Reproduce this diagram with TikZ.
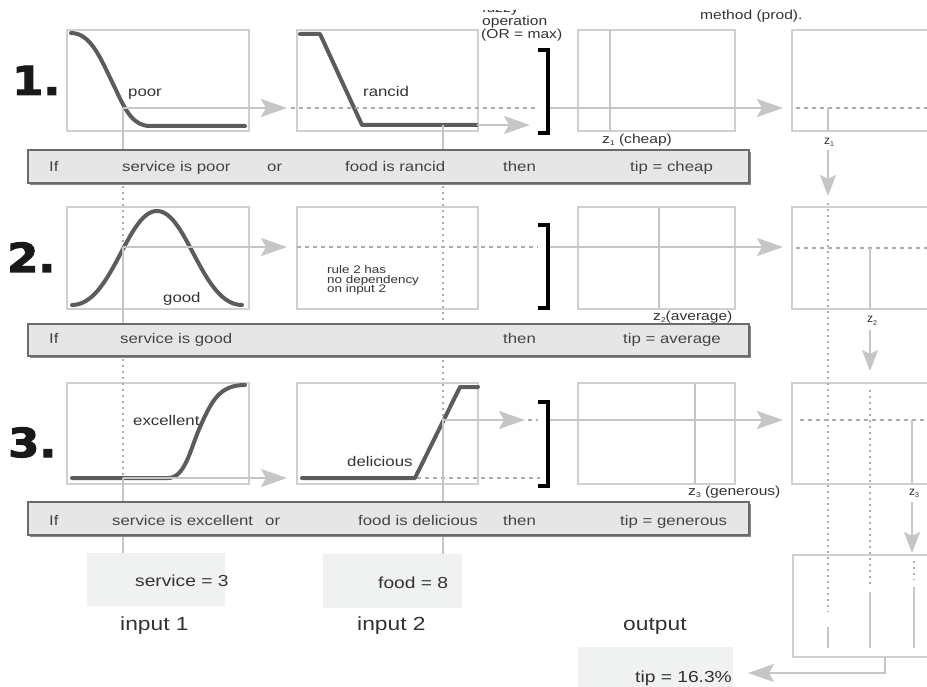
\documentclass[tikz,border=0pt]{standalone}
\usepackage{fontspec}
\setmainfont{Liberation Sans}
\newfontfamily\numfont{DejaVu Sans}[BoldFeatures={FakeBold=2.5}]
\usepackage{graphicx}
\usetikzlibrary{arrows.meta}
\definecolor{frameC}{HTML}{D0D0D0}
\definecolor{curveC}{HTML}{5C5C5C}
\definecolor{arrowC}{HTML}{C6C6C6}
\definecolor{dashC}{HTML}{ADADAD}
\definecolor{txtC}{HTML}{333333}
\definecolor{ruleTxt}{HTML}{444444}
\definecolor{ruleFill}{HTML}{E6E6E6}
\definecolor{ruleDraw}{HTML}{6A6A6A}
\definecolor{valFill}{HTML}{F0F1F1}
\newcommand\XS[1]{\scalebox{1.2}[1]{#1}}
\newcommand\XN[1]{\scalebox{1.22}[1]{#1}}
\newcommand\zsub[1]{{\fontsize{7}{7}\selectfont\raisebox{-2pt}{#1}}}
\begin{document}
\begin{tikzpicture}[x=1pt,y=-1pt,
  mfbox/.style={draw=frameC, line width=1.1pt, anchor=north west, inner sep=0pt, outer sep=0pt},
  mf/.style={draw=curveC, line width=4pt, line cap=round, line join=round},
  gline/.style={draw=arrowC, line width=2pt},
  gar/.style={draw=arrowC, line width=2pt, -{Stealth[length=26pt,width=18pt,inset=5pt]}},
  garv/.style={draw=arrowC, line width=2pt, -{Stealth[length=21pt,width=16pt,inset=4pt]}},
  dsh/.style={draw=dashC, line width=1.3pt, dash pattern=on 4pt off 4pt},
  dot/.style={draw=dashC, line width=1.7pt, dash pattern=on 1.7pt off 4.3pt},
  brk/.style={draw=black, line width=4pt, line join=miter},
  rulebox/.style={draw=ruleDraw, line width=1.1pt, fill=ruleFill, anchor=north west, inner sep=0pt, outer sep=0pt},
  shadowbox/.style={fill=ruleDraw!80, draw=none, anchor=north west, inner sep=0pt, outer sep=0pt},
  valbox/.style={fill=valFill, draw=none, anchor=north west, inner sep=0pt, outer sep=0pt},
  lbl/.style={inner sep=0pt, anchor=base west, text=txtC, font=\fontsize{14}{16}\selectfont},
  rtxt/.style={inner sep=0pt, anchor=base west, text=ruleTxt, font=\fontsize{14}{16}\selectfont},
  small/.style={inner sep=0pt, anchor=base west, text=txtC, font=\fontsize{13}{14}\selectfont},
  tiny/.style={inner sep=0pt, anchor=base west, text=txtC, font=\fontsize{11}{11}\selectfont},
  zlbl/.style={inner sep=0pt, anchor=base, text=txtC, font=\fontsize{12}{12}\selectfont},
  val/.style={inner sep=0pt, anchor=base west, text=txtC, font=\fontsize{16}{18}\selectfont},
  io/.style={inner sep=0pt, anchor=base west, text=txtC, font=\fontsize{19}{21}\selectfont},
  bignum/.style={inner sep=0pt, anchor=base west, text=black!90, font=\numfont\bfseries\fontsize{40}{40}\selectfont}
]
\useasboundingbox (0,0) rectangle (927,687);
\clip (0,0) rectangle (927,687);

% ---------- boxes ----------
\node[mfbox, minimum width=182pt, minimum height=101pt] (A1) at (67,30) {};
\node[mfbox, minimum width=181pt, minimum height=101pt] (B1) at (297,30) {};
\node[mfbox, minimum width=157pt, minimum height=101pt] (C1) at (578,30) {};
\node[mfbox, minimum width=170pt, minimum height=101pt] (D1) at (792,30) {};
\node[mfbox, minimum width=182pt, minimum height=102pt] (A2) at (67,207) {};
\node[mfbox, minimum width=181pt, minimum height=102pt] (B2) at (297,207) {};
\node[mfbox, minimum width=157pt, minimum height=102pt] (C2) at (578,207) {};
\node[mfbox, minimum width=170pt, minimum height=102pt] (D2) at (792,207) {};
\node[mfbox, minimum width=182pt, minimum height=101pt] (A3) at (67,383) {};
\node[mfbox, minimum width=181pt, minimum height=101pt] (B3) at (297,383) {};
\node[mfbox, minimum width=157pt, minimum height=101pt] (C3) at (578,383) {};
\node[mfbox, minimum width=170pt, minimum height=101pt] (D3) at (792,383) {};
\node[mfbox, minimum width=170pt, minimum height=102pt] (E) at (793,555) {};

% ---------- membership functions ----------
\draw[mf] (71,33) .. controls (92,33) and (102,62) .. (116,90) .. controls (126,112) and (134,126) .. (150,126) -- (245,126);
\draw[mf] (300,34) -- (320,34) -- (362,125) -- (477,125);
\draw[mf] (72,305) .. controls (112,305) and (127,211) .. (157,211) .. controls (187,211) and (202,305) .. (242,305);
\draw[mf] (72,478) -- (168,478) .. controls (185,478) and (190,450) .. (200,427) .. controls (212,400) and (220,385) .. (245,385);
\draw[mf] (302,478) -- (415,478) -- (460,387) -- (478,387);

% ---------- named points ----------
\coordinate (s1) at (123,108);  \coordinate (s2) at (123,247);  \coordinate (s3) at (123,478);
\coordinate (f1) at (443,125);  \coordinate (f3) at (443,420);
\coordinate (br1) at (550,108); \coordinate (br2) at (550,247); \coordinate (br3) at (550,420);

% ---------- row 1 ----------
\draw[gline] (s1) -- (123,150);
\draw[gar] (s1) -- (287,108);
\draw[dsh] (291,108) -- (538,108);
\draw[gline] (f1) -- (443,150);
\draw[gar] (477,125) -- (530,125);
\draw[brk] (538,50) -- (548,50) -- (548,133) -- (538,133);
\draw[gar] (br1) -- (783,108);
\draw[gline] (610,30) -- (610,131);
\draw[dsh] (796,108) -- (927,108);
\draw[gline] (828,108) -- (828,131);
\draw[garv] (828,150) -- (828,196);
\draw[dot] (828,203) -- (828,612);
\draw[gline] (828,627) -- (828,648);

% ---------- row 2 ----------
\draw[dot] (123,186) -- (123,245);
\draw[gline] (s2) -- (123,324);
\draw[gar] (s2) -- (287,247);
\draw[dsh] (297,247) -- (538,247);
\draw[dot] (443,186) -- (443,416);
\draw[brk] (538,225) -- (548,225) -- (548,308) -- (538,308);
\draw[gar] (br2) -- (783,247);
\draw[gline] (659,207) -- (659,309);
\draw[dsh] (796,248) -- (927,248);
\draw[gline] (870,248) -- (870,309);
\draw[garv] (870,330) -- (870,371);
\draw[dot] (870,390) -- (870,588);
\draw[gline] (870,592) -- (870,648);

% ---------- row 3 ----------
\draw[dot] (123,359) -- (123,476);
\draw[gline] (s3) -- (123,502);
\draw[gar] (s3) -- (287,478);
\draw[dsh] (417,478) -- (540,478);
\draw[gline] (443,418) -- (443,502);
\draw[gar] (f3) -- (525,420);
\draw[dsh] (528,420) -- (538,420);
\draw[brk] (538,402) -- (548,402) -- (548,486) -- (538,486);
\draw[gar] (br3) -- (783,420);
\draw[gline] (695,383) -- (695,484);
\draw[dsh] (800,420) -- (927,420);
\draw[gline] (912,420) -- (912,484);
\draw[garv] (912,502) -- (912,553);
\draw[dot] (914,561) -- (914,580);
\draw[gline] (914,587) -- (914,648);

% ---------- inputs / output ----------
\draw[gline] (123,535) -- (123,553);
\draw[gline] (443,535) -- (443,554);
\node[valbox, minimum width=138pt, minimum height=53pt] (sv) at (87,553) {};
\node[valbox, minimum width=139pt, minimum height=54pt] (fv) at (323,554) {};
\node[valbox, minimum width=155pt, minimum height=45pt] (tv) at (578,647) {};
\draw[gar] (885,657) -- (885,673) -- (748,673);

% ---------- rule boxes ----------
\node[shadowbox, minimum width=721pt, minimum height=33pt] (r1s) at (30,152) {};
\node[rulebox, minimum width=721pt, minimum height=33pt] (r1) at (28,150) {};
\node[shadowbox, minimum width=721pt, minimum height=32pt] (r2s) at (30,326) {};
\node[rulebox, minimum width=721pt, minimum height=32pt] (r2) at (28,324) {};
\node[shadowbox, minimum width=721pt, minimum height=33pt] (r3s) at (30,504) {};
\node[rulebox, minimum width=721pt, minimum height=33pt] (r3) at (28,502) {};

% ---------- big numbers ----------
\node[bignum] (n1) at (12,95) {\scalebox{1.12}[1]{1.}};
\node[bignum] (n2) at (7,272) {\scalebox{1.12}[1]{2.}};
\node[bignum] (n3) at (8,457) {\scalebox{1.12}[1]{3.}};

% ---------- labels in boxes ----------
\node[lbl] (tpoor) at (128,97) {\XS{poor}};
\node[lbl] (trancid) at (363,97) {\XS{rancid}};
\node[lbl] (tgood) at (163,302) {\XS{good}};
\node[lbl] (texc) at (133,425) {\XS{excellent}};
\node[lbl] (tdel) at (347,466) {\XS{delicious}};
\node[tiny] (nd1) at (327,274) {\XN{rule 2 has}};
\node[tiny] (nd2) at (327,283.5) {\XN{no dependency}};
\node[tiny] (nd3) at (327,293) {\XN{on input 2}};

% ---------- headings ----------
\begin{scope}
\clip (470,10.5) rectangle (570,20);
\node[small] (fz) at (482,13) {\XS{fuzzy}};
\end{scope}
\node[small] (op) at (482,26) {\XS{operation}};
\node[small] (orm) at (481,39) {\XS{(OR = max)}};
\node[small] (meth) at (700,20) {\XS{method (prod).}};

% ---------- z labels ----------
\node[small] (z1c) at (602,144) {\XS{z\zsub{1} (cheap)}};
\node[small] (z2c) at (653,320) {\XS{z\zsub{2}(average)}};
\node[small] (z3c) at (688,495) {\XS{z\zsub{3} (generous)}};
\node[zlbl] (z1) at (829,145) {z\zsub{1}};
\node[zlbl] (z2) at (872,323) {z\zsub{2}};
\node[zlbl] (z3) at (914,495) {z\zsub{3}};

% ---------- rule texts ----------
\node[rtxt] (i1) at (49,172) {\XS{If}};
\node[rtxt] at (122,172) {\XS{service is poor}};
\node[rtxt] at (267,172) {\XS{or}};
\node[rtxt] at (345,172) {\XS{food is rancid}};
\node[rtxt] at (503,172) {\XS{then}};
\node[rtxt] at (630,172) {\XS{tip = cheap}};
\node[rtxt] (i2) at (49,343) {\XS{If}};
\node[rtxt] at (120,343) {\XS{service is good}};
\node[rtxt] at (503,343) {\XS{then}};
\node[rtxt] at (623,343) {\XS{tip = average}};
\node[rtxt] (i3) at (49,525) {\XS{If}};
\node[rtxt] at (112,525) {\XS{service is excellent}};
\node[rtxt] at (265,525) {\XS{or}};
\node[rtxt] at (358,525) {\XS{food is delicious}};
\node[rtxt] at (503,525) {\XS{then}};
\node[rtxt] at (620,525) {\XS{tip = generous}};

% ---------- values ----------
\node[val] (sval) at (135,586) {\XS{service = 3}};
\node[val] (fval) at (378,588) {\XS{food = 8}};
\node[val] (tval) at (635,682) {\XS{tip = 16.3\%}};
\node[io] (in1) at (120,630) {\XS{input 1}};
\node[io] (in2) at (357,630) {\XS{input 2}};
\node[io] (out) at (623,630) {\XS{output}};
\end{tikzpicture}
\end{document}
